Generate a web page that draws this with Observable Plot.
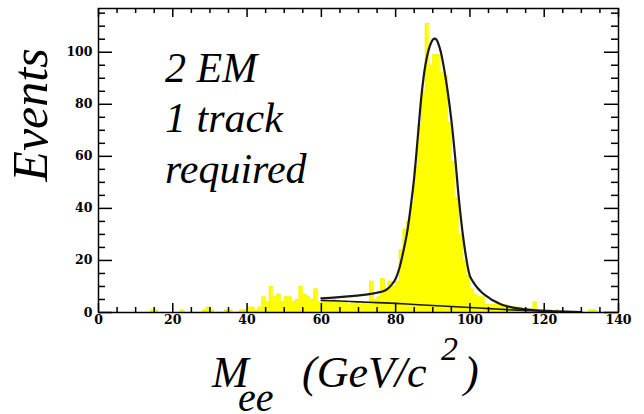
<!DOCTYPE html>
<html><head><meta charset="utf-8">
<script src="https://cdn.jsdelivr.net/npm/d3@7"></script>
<script src="https://cdn.jsdelivr.net/npm/@observablehq/plot@0.6"></script>
<style>
html,body{margin:0;padding:0;background:#fff;}
#wrap{position:relative;width:644px;height:414px;overflow:hidden;}
#chart{position:absolute;left:0;top:0;}
</style>
</head><body>
<div id="wrap">
<div id="chart"></div>
<div style="position:absolute;left:47px;top:115px;font-family:'Liberation Serif';font-style:italic;font-size:50px;line-height:1;white-space:nowrap;transform-origin:0 0;transform:rotate(-90deg) translate(-50%,-41.9px)">Events</div>
<div style="position:absolute;left:165px;top:46.8px;font-family:'Liberation Serif';font-style:italic;font-size:42px;line-height:1;white-space:nowrap">2 EM</div>
<div style="position:absolute;left:165px;top:96.8px;font-family:'Liberation Serif';font-style:italic;font-size:42px;line-height:1;white-space:nowrap">1 track</div>
<div style="position:absolute;left:165px;top:147.8px;font-family:'Liberation Serif';font-style:italic;font-size:42px;line-height:1;white-space:nowrap">required</div>
<div style="position:absolute;left:212px;top:351.2px;font-family:'Liberation Serif';font-style:italic;font-size:44px;line-height:1;white-space:nowrap">M</div>
<div style="position:absolute;left:238px;top:377.5px;font-family:'Liberation Serif';font-style:italic;font-size:40px;line-height:1;white-space:nowrap">ee</div>
<div style="position:absolute;left:302px;top:351.2px;font-family:'Liberation Serif';font-style:italic;font-size:44px;line-height:1;white-space:nowrap">(GeV/c</div>
<div style="position:absolute;left:441px;top:331.5px;font-family:'Liberation Serif';font-style:italic;font-size:34px;line-height:1;white-space:nowrap">2</div>
<div style="position:absolute;left:464px;top:351.2px;font-family:'Liberation Serif';font-style:italic;font-size:44px;line-height:1;white-space:nowrap">)</div>
</div>
<script>
// Histogram: 1 GeV bins from 0 to 140 GeV (count per bin, bin i = [i, i+1))
const binWidth = 1;
const counts = [
  0,0,0,0,0,0,0,0,0,0,        // 0-9
  0,0,0,0,1,1,0,0,0,0,        // 10-19
  0,0,1,0,0,0,0,0,1,2,        // 20-29
  1,0,0,0,1,1,0,0,1,1,        // 30-39
  2,2,1,2,6,4,10,6,7,4,       // 40-49
  6,6,4,5,10,7,6,5,9,4,       // 50-59
  5,4,4,5,4,4,4,3,4,4,        // 60-69
  3,4,4,12,5,6,13,9,12,10,    // 70-79
  12,24,32,35,42,56,72,85,111,95, // 80-89
  99,99,92,91,73,58,44,30,20,14,  // 90-99
  9,7,6,6,3,3,3,4,3,3,        // 100-109
  2,2,2,2,1,1,1,4,1,1,        // 110-119
  0,1,0,1,0,0,0,0,0,0,        // 120-129
  0,0,1,1,0,0,0,0,0,0         // 130-139
];
// Fit: signal + background (total)
const fitX = [60,64,68,72,75,77,78,79,80,81,82,83,84,85,86,87,88,89,90,90.5,91,92,93,94,95,96,97,98,99,100,101,102,103,104,105,106,108,110,112,115,118,122,126,130];
const fitY = [5.4,5.8,6.3,6.9,7.6,8.4,9.3,10.8,13,17,23,30,40,52,68,84,95,101.5,104.8,105.2,104.8,101,94,85,74,60,44,31,21,14,11.5,9.5,8,6.8,5.8,4.8,3.4,2.4,1.8,1.2,0.8,0.5,0.3,0.2];
// Fit: background only
const bkgX = [60,65,70,75,80,85,90,95,100,105,110,115,120,125,130];
const bkgY = [4.6,4.4,4.1,3.8,3.5,3.1,2.7,2.3,1.9,1.5,1.1,0.8,0.5,0.3,0.2];

const xDomain = [0, 140];
const yDomain = [0, 116.8];
const xTicks = [0,20,40,60,80,100,120,140];
const xMinor = [5,10,15,25,30,35,45,50,55,65,70,75,85,90,95,105,110,115,125,130,135];
const yTicks = [0,20,40,60,80,100];
const yMinor = [5,10,15,25,30,35,45,50,55,65,70,75,85,90,95,105,110,115];

const W = 644, H = 414, mL = 98, mR = 26, mT = 8, mB = 102;
const pH = H - mT - mB, pW = W - mL - mR;

const steps = counts.map((c, i) => ({x: i * binWidth, n: c}));
steps.push({x: counts.length * binWidth, n: 0});
const fit = fitX.map((x, i) => ({x, y: fitY[i]}));
const bkg = bkgX.map((x, i) => ({x, y: bkgY[i]}));

const tickFont = {fontFamily: "DejaVu Serif", fontWeight: "bold", fontSize: 12.5};

const chart = Plot.plot({
  width: W, height: H,
  marginLeft: mL, marginRight: mR, marginTop: mT, marginBottom: mB,
  style: {background: "white", overflow: "visible"},
  x: {domain: xDomain},
  y: {domain: yDomain},
  marks: [
    Plot.areaY(steps, {x: "x", y: "n", fill: "#ffff00", curve: "step-after"}),
    Plot.line(steps, {x: "x", y: "n", stroke: "#f2f000", strokeWidth: 0.8, curve: "step-after"}),
    Plot.line(bkg, {x: "x", y: "y", stroke: "#1a1a1a", strokeWidth: 1.6, curve: "catmull-rom"}),
    Plot.line(fit, {x: "x", y: "y", stroke: "#1a1a1a", strokeWidth: 2.2, curve: "catmull-rom"}),
    Plot.ruleX(xTicks, {x: d => d, insetTop: pH - 9, stroke: "black", strokeWidth: 1.5}),
    Plot.ruleX(xMinor, {x: d => d, insetTop: pH - 5, stroke: "black", strokeWidth: 1.5}),
    Plot.ruleX(xTicks, {x: d => d, insetBottom: pH - 9, stroke: "black", strokeWidth: 1.5}),
    Plot.ruleX(xMinor, {x: d => d, insetBottom: pH - 5, stroke: "black", strokeWidth: 1.5}),
    Plot.ruleY(yTicks, {y: d => d, insetRight: pW - 14, stroke: "black", strokeWidth: 1.5}),
    Plot.ruleY(yMinor, {y: d => d, insetRight: pW - 7, stroke: "black", strokeWidth: 1.5}),
    Plot.ruleY(yTicks, {y: d => d, insetLeft: pW - 14, stroke: "black", strokeWidth: 1.5}),
    Plot.ruleY(yMinor, {y: d => d, insetLeft: pW - 7, stroke: "black", strokeWidth: 1.5}),
    Plot.frame({stroke: "black", strokeWidth: 1.5}),
    Plot.axisX({ticks: xTicks, tickSize: 0, tickPadding: 3, label: null, ...tickFont, fill: "black"}),
    Plot.axisY({ticks: yTicks, tickSize: 0, tickPadding: 6, label: null, ...tickFont, fill: "black"})
  ]
});
document.getElementById("chart").appendChild(chart);
</script>
</body></html>
